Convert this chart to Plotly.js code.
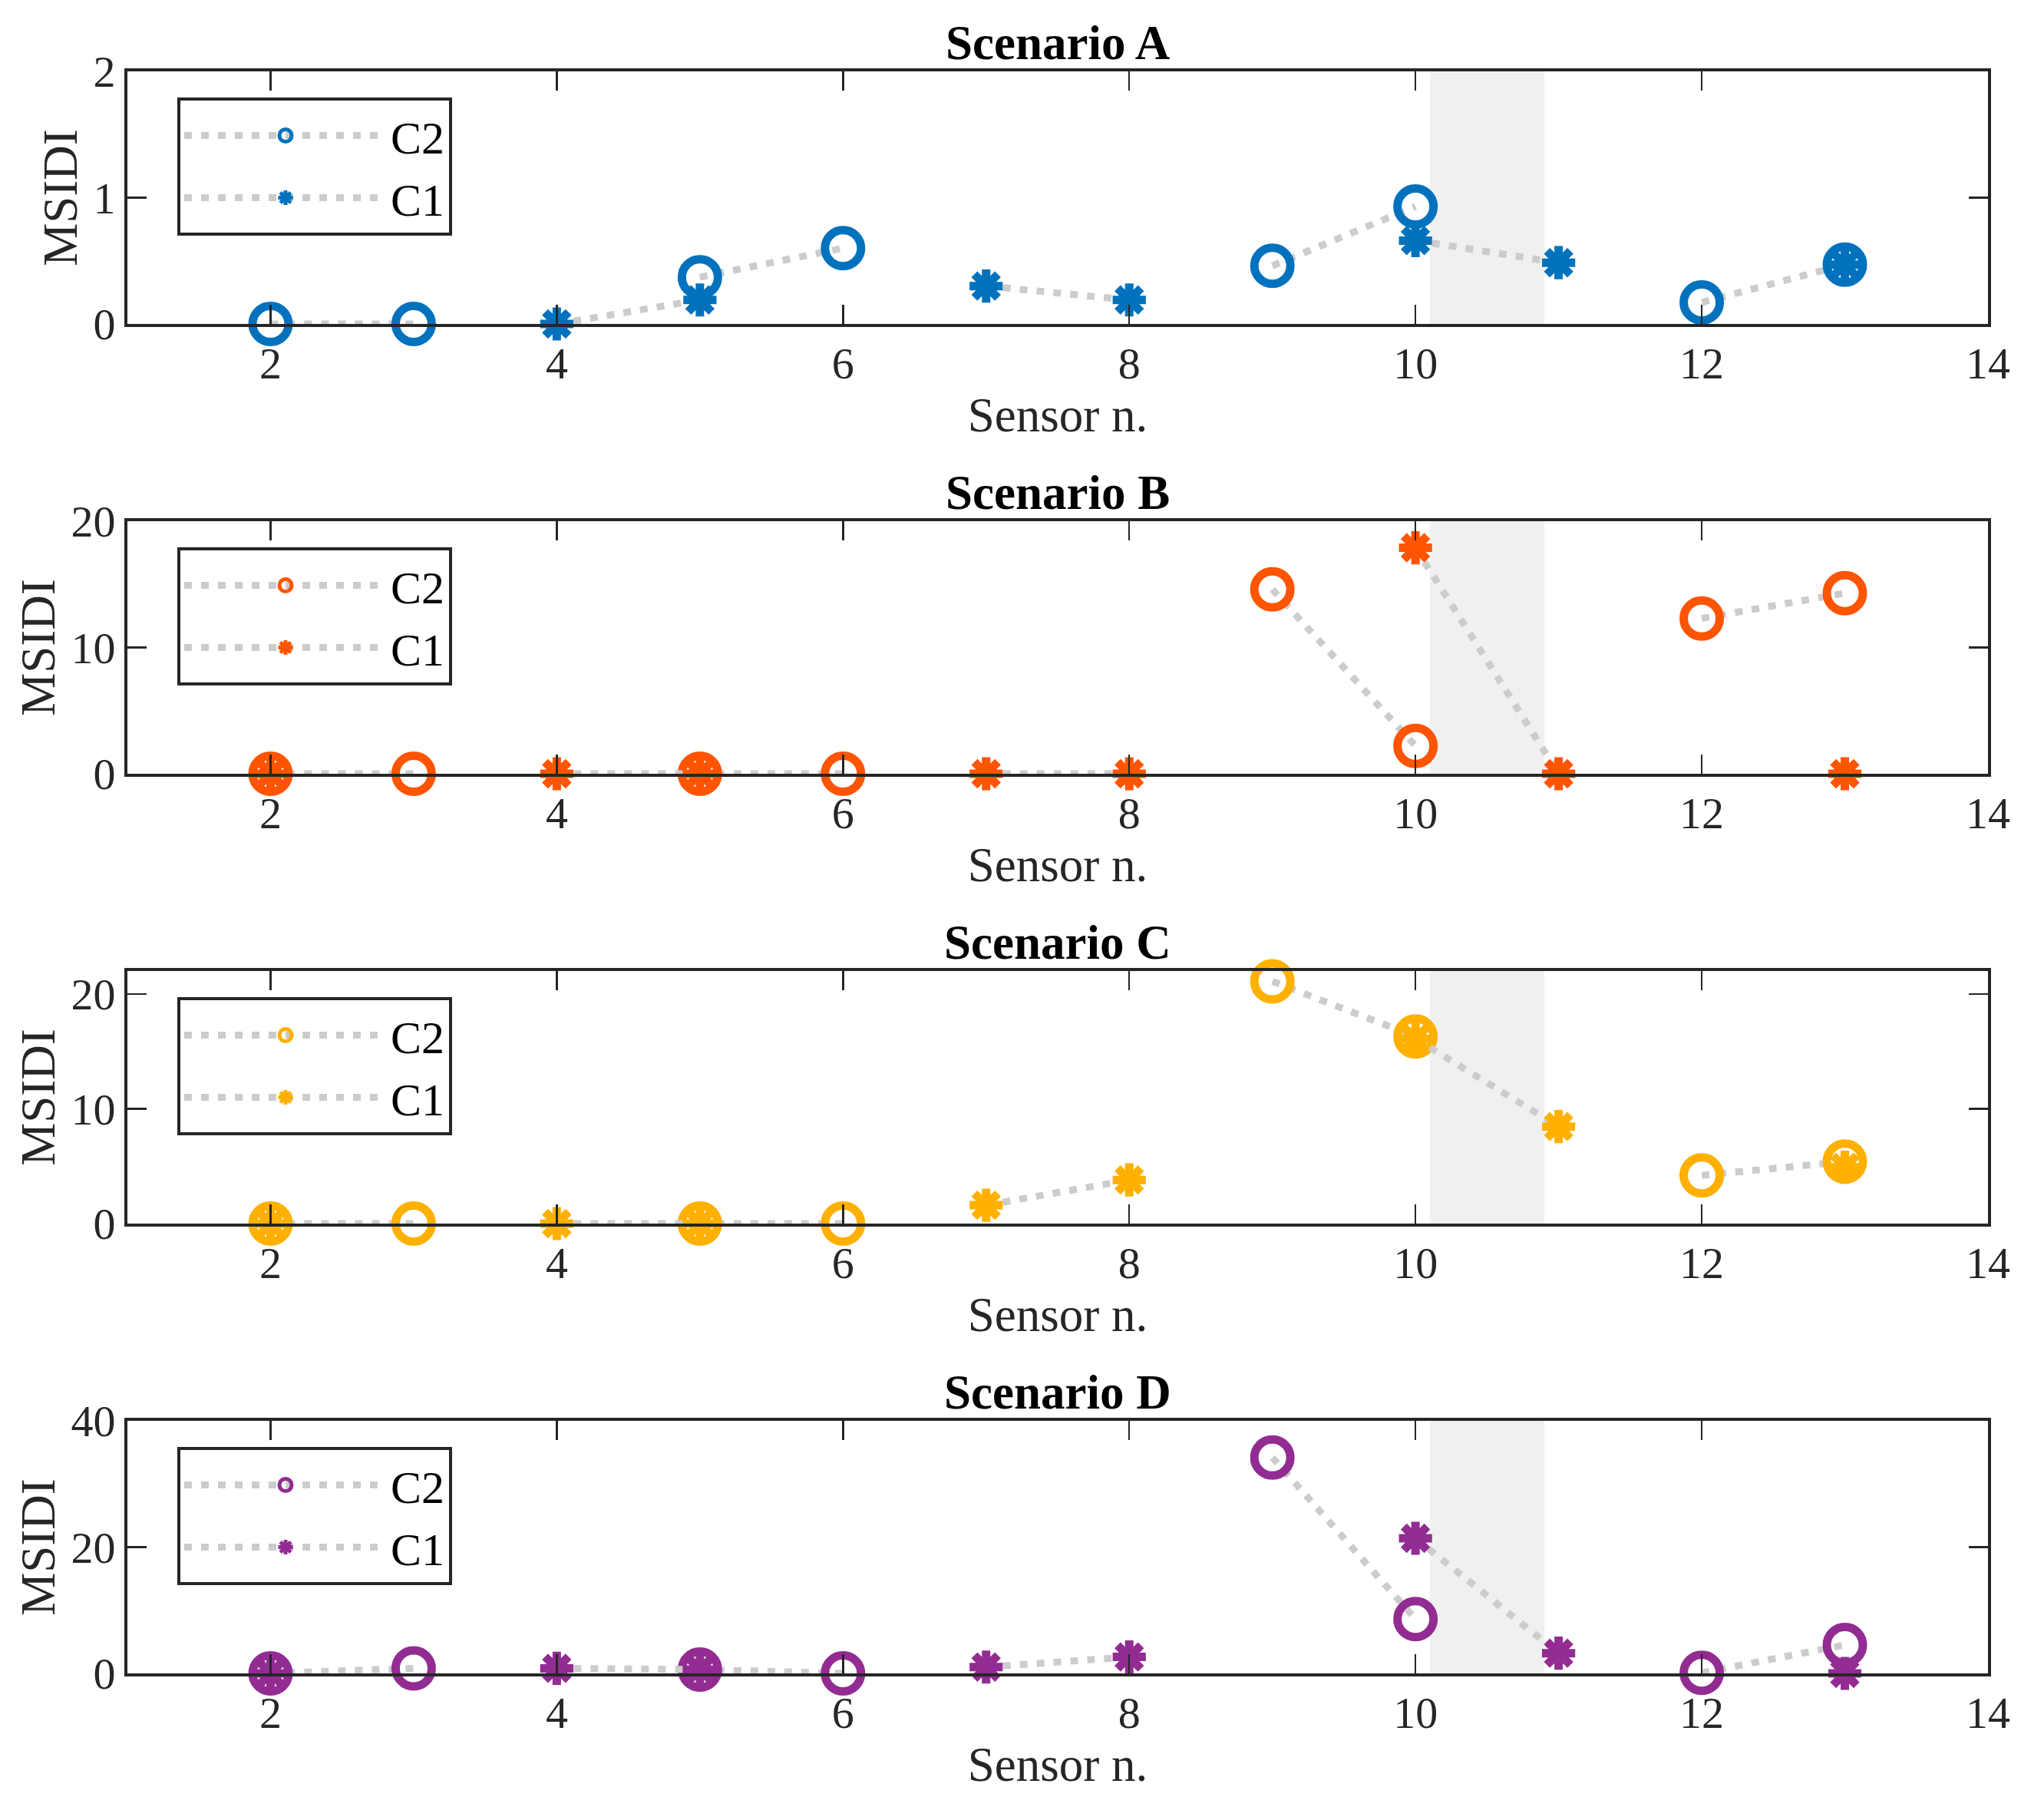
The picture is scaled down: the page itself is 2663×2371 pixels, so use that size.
<!DOCTYPE html>
<html><head><meta charset="utf-8">
<script src="https://cdn.plot.ly/plotly-3.0.1.min.js"></script>
<style>html,body{margin:0;padding:0;background:#fff}</style>
</head><body><div id="chart" style="width:2663px;height:2371px"></div>
<script>
// ---- data ----
const sensors = [2, 3, 4, 5, 6, 7, 8, 9, 10, 11, 12, 13];
const scenarioNames = ['Scenario A', 'Scenario B', 'Scenario C', 'Scenario D'];
const seriesNames = ['C2', 'C1'];
// C2 (open circles)
const c2A = [0, 0, null, 0.37, 0.6, null, null, 0.46, 0.93, null, 0.17, 0.47];
const c2B = [0, 0, null, 0, 0, null, null, 14.6, 2.2, null, 12.3, 14.3];
const c2C = [0, 0, null, 0, 0, null, null, 21.1, 16.3, null, 4.2, 5.4];
const c2D = [0, 0.8, null, 0.6, 0, null, null, 34.2, 8.6, null, 0.1, 4.5];
// C1 (asterisks)
const c1A = [null, null, 0, 0.19, null, 0.3, 0.19, null, 0.66, 0.485, null, 0.47];
const c1B = [0, null, 0, 0, null, 0, 0, null, 17.9, 0, null, 0];
const c1C = [0, null, 0, 0, null, 1.6, 3.8, null, 16.1, 8.45, null, 4.9];
const c1D = [0, null, 0.8, 0.6, null, 1.0, 2.6, null, 21.4, 3.2, null, 0];
const bandRange = [10.1, 10.9];
const xRange = [1, 14];
const yRanges = [[0, 2], [0, 20], [0, 22], [0, 40]];
const yTickStep = [1, 10, 10, 20];
const xLabel = 'Sensor n.';
const yLabel = 'MSIDI';

// ---- style ----
const c2Data = [c2A, c2B, c2C, c2D];
const c1Data = [c1A, c1B, c1C, c1D];
const colors = ['#0072BD', '#FF5400', '#FFB000', '#922C92'];
const FONT = 'Liberation Serif, Times New Roman, serif';
const W = 2663, H = 2371;
const axisDark = '#262626';
const lineStyle = {color: '#CCCCCC', width: 9, dash: '10px,12px'};
const panelTop = [93, 679, 1265, 1851];
const panelH = 329;
const ml = 166, mr = 73;
const plotW = W - ml - mr;

const traces = [];
const layout = {
  width: W, height: H,
  margin: {l: ml, r: mr, t: 0, b: 0},
  paper_bgcolor: '#fff', plot_bgcolor: '#fff',
  font: {family: FONT, color: '#000'},
  showlegend: true,
  shapes: [], annotations: []
};

for (let i = 0; i < 4; i++) {
  const s = i === 0 ? '' : String(i + 1);
  const legName = 'legend' + s;
  const top = 1 - panelTop[i] / H;
  const bot = 1 - (panelTop[i] + panelH) / H;
  traces.push({
    x: sensors, y: c2Data[i], name: seriesNames[0], type: 'scatter',
    mode: 'lines+markers', connectgaps: false, cliponaxis: false,
    xaxis: 'x' + s, yaxis: 'y' + s, legend: legName,
    line: lineStyle,
    marker: {symbol: 'circle-open', size: 47, color: colors[i], line: {width: 11, color: colors[i]}}
  });
  traces.push({
    x: sensors, y: c1Data[i], name: seriesNames[1], type: 'scatter',
    mode: 'lines+markers', connectgaps: false, cliponaxis: false,
    xaxis: 'x' + s, yaxis: 'y' + s, legend: legName,
    line: lineStyle,
    marker: {symbol: 'asterisk-open', size: 36, color: colors[i], line: {width: 11, color: colors[i]}}
  });
  layout['xaxis' + s] = {
    domain: [0, 1], anchor: 'y' + s, range: xRange, tick0: 0, dtick: 2,
    showgrid: false, zeroline: false, showline: true, mirror: 'ticks',
    linecolor: axisDark, linewidth: 4, ticks: 'inside', ticklen: 25, tickwidth: 2.5, tickcolor: axisDark,
    tickfont: {family: FONT, size: 58, color: axisDark},
    ticklabelstandoff: -3,
    title: {text: xLabel, font: {family: FONT, size: 63, color: axisDark}, standoff: 4}
  };
  layout['yaxis' + s] = {
    domain: [bot, top], anchor: 'x' + s, range: yRanges[i], tick0: 0, dtick: yTickStep[i],
    showgrid: false, zeroline: false, showline: true, mirror: 'ticks',
    linecolor: axisDark, linewidth: 4, ticks: 'inside', ticklen: 25, tickwidth: 2.5, tickcolor: axisDark,
    tickfont: {family: FONT, size: 58, color: axisDark},
    title: {text: yLabel, font: {family: FONT, size: 63, color: axisDark}, standoff: 1}
  };
  layout[legName] = {
    x: (231 - ml) / plotW, xanchor: 'left', y: 1 - (panelTop[i] + 34) / H, yanchor: 'top',
    xref: 'paper', yref: 'paper',
    bgcolor: '#fff', bordercolor: axisDark, borderwidth: 4,
    font: {family: FONT, size: 60, color: '#000'},
    itemwidth: 264, tracegroupgap: 0, itemsizing: 'trace'
  };
  layout.shapes.push({
    type: 'rect', xref: 'x' + s, yref: 'y' + s + ' domain',
    x0: bandRange[0], x1: bandRange[1], y0: 0, y1: 1,
    fillcolor: '#F0F0F0', line: {width: 0}, layer: 'below'
  });
  layout.annotations.push({
    text: scenarioNames[i], xref: 'x' + s + ' domain', yref: 'y' + s + ' domain',
    x: 0.5, y: 1, xanchor: 'center', yanchor: 'bottom', showarrow: false, yshift: 0,
    font: {family: FONT, size: 63, weight: 'bold', color: '#000'}
  });
}

Plotly.newPlot('chart', traces, layout, {displayModeBar: false, staticPlot: true});
</script>
</body></html>
